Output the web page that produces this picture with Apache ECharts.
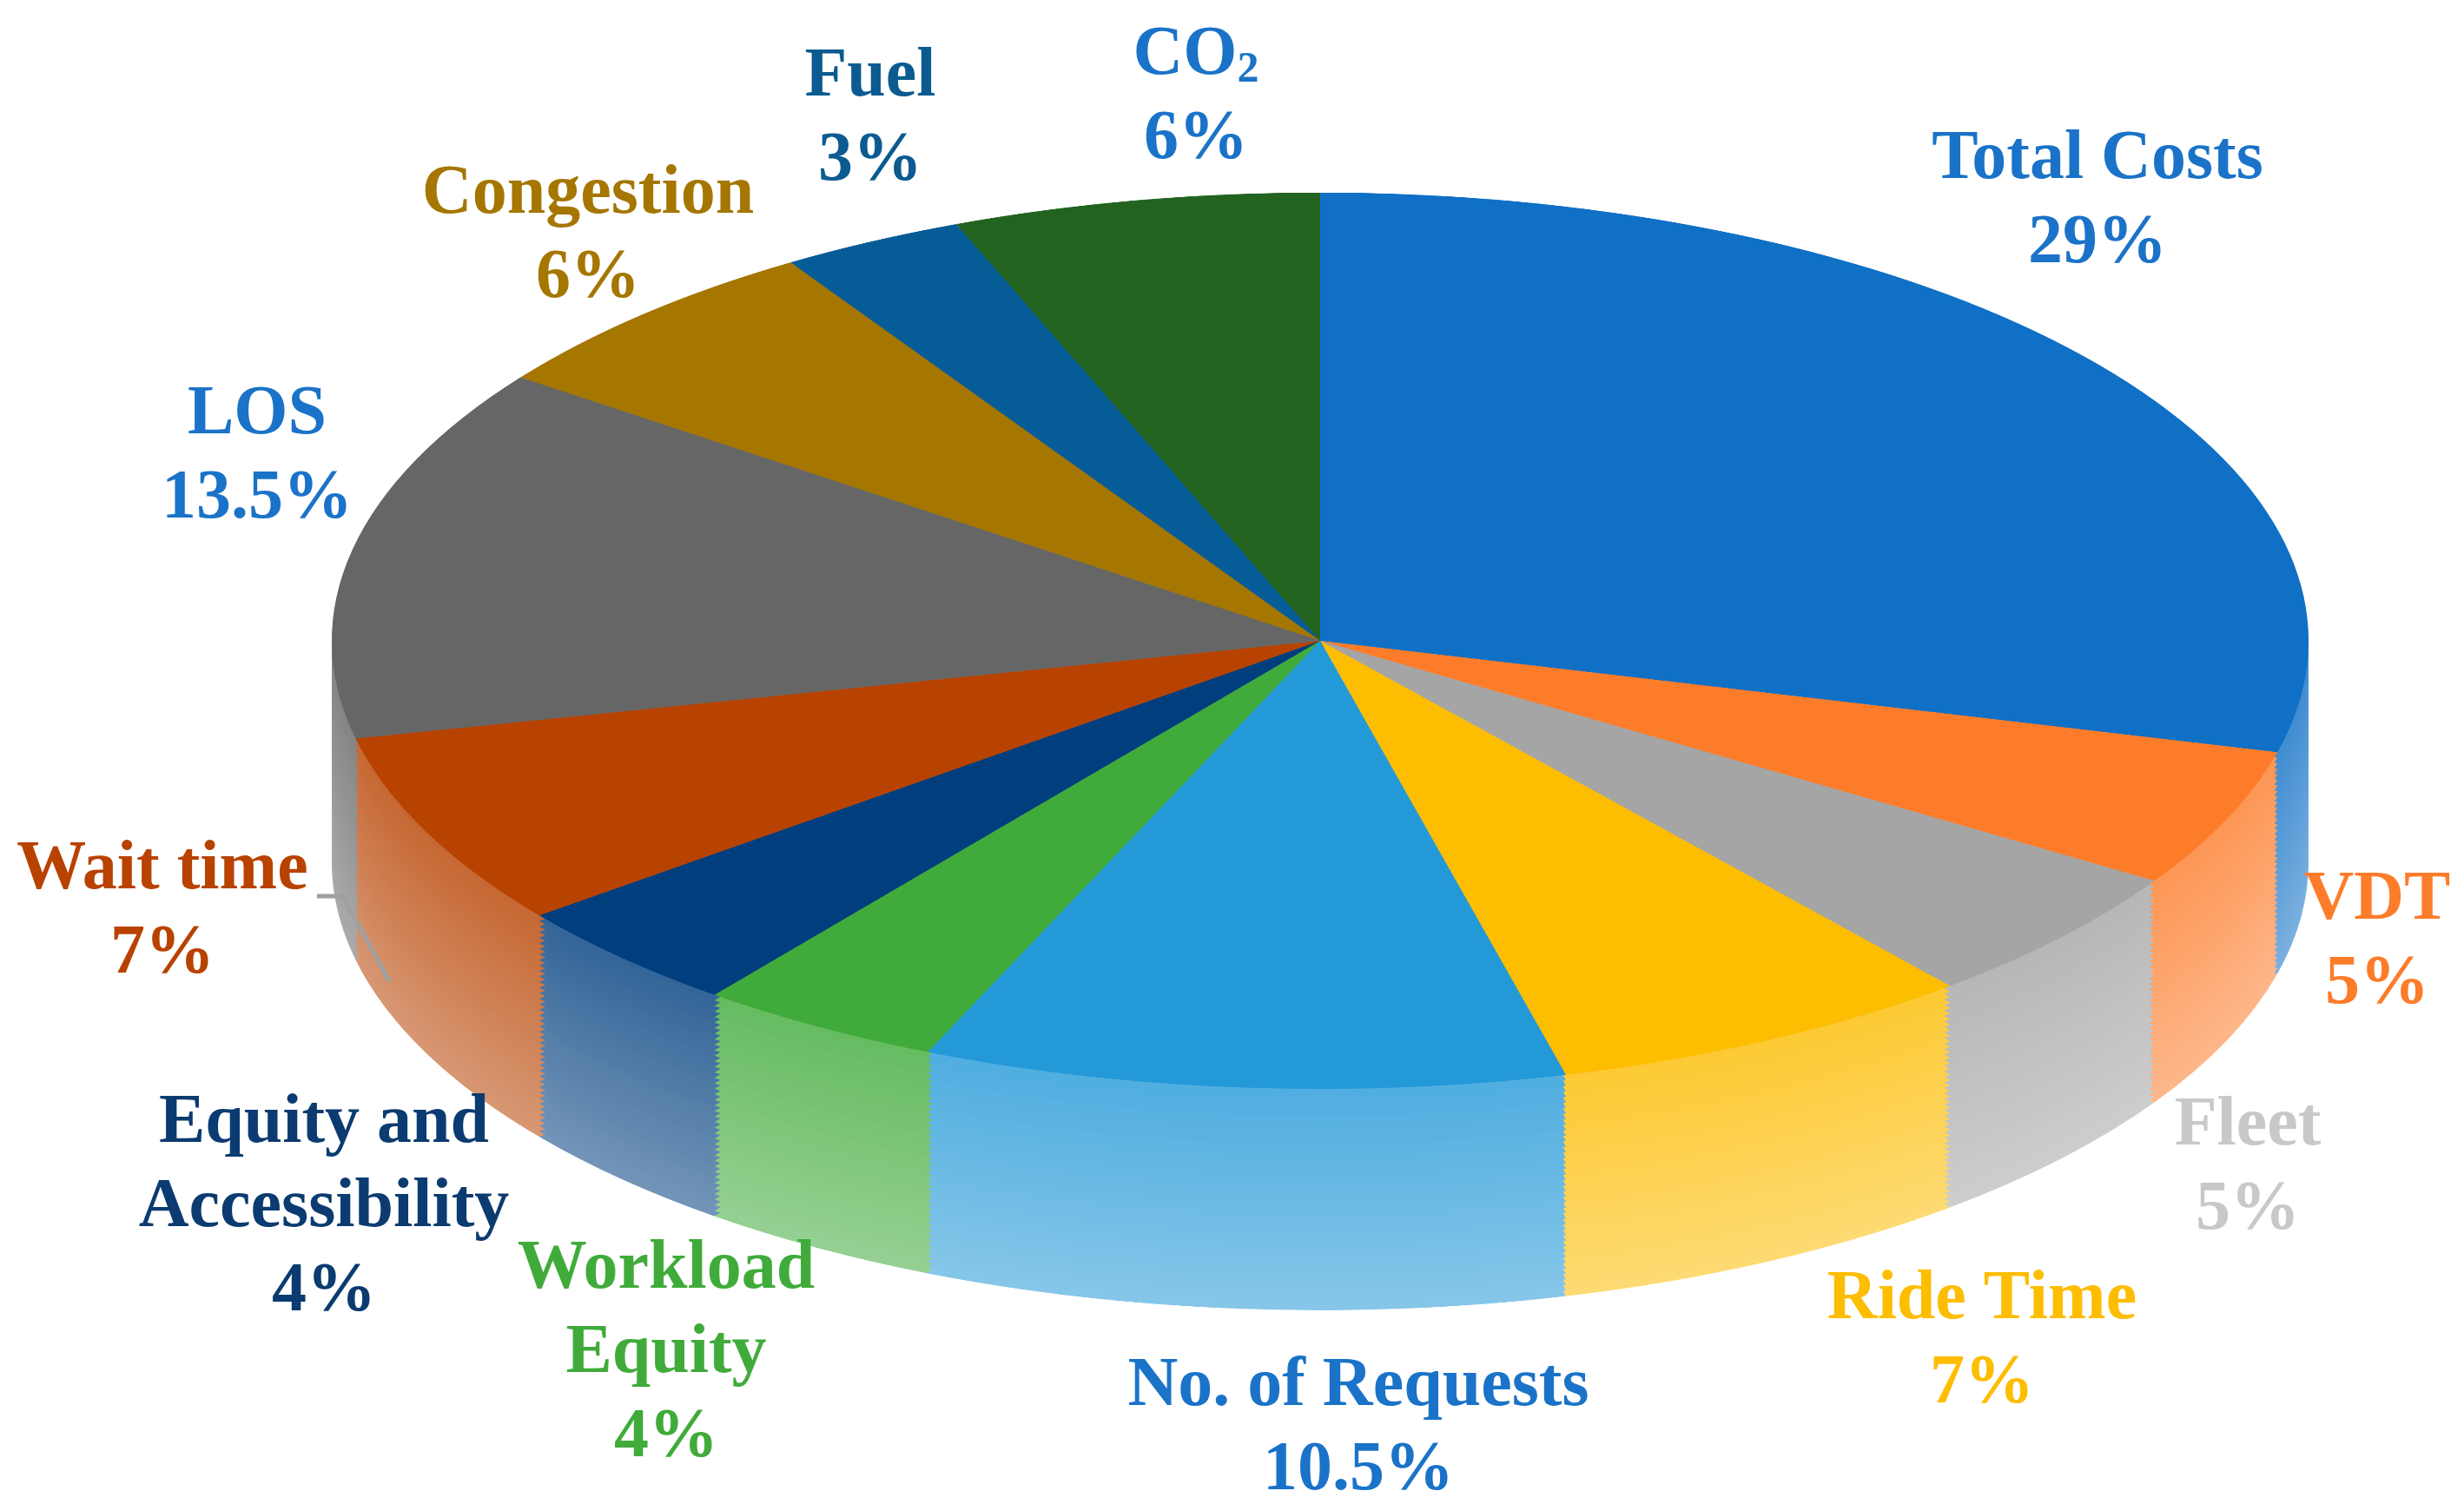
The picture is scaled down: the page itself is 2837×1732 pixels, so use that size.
<!DOCTYPE html>
<html><head><meta charset="utf-8">
<script src="https://cdn.jsdelivr.net/npm/echarts@6/dist/echarts.min.js"></script>
<style>
html,body{margin:0;padding:0;background:#fff;overflow:hidden}
#pie{position:absolute;left:0;top:0;width:2837px;height:3400px;transform:scaleY(0.4535);transform-origin:0 0}
#lab{position:absolute;left:0;top:0;width:2837px;height:1732px}
</style></head><body>
<div id="pie"></div><div id="lab"></div>
<script>
const categories = ['Total Costs','VDT','Fleet','Ride Time','No. of Requests','Workload Equity','Equity and Accessibility','Wait time','LOS','Congestion','Fuel','CO2'];
const values = [29,5,5,7,10.5,4,4,7,13.5,6,3,6];
const labelText = ['Total Costs\n29%','VDT\n5%','Fleet\n5%','Ride Time\n7%','No. of Requests\n10.5%','Workload\nEquity\n4%','Equity and\nAccessibility\n4%','Wait time\n7%','LOS\n13.5%','Congestion\n6%','Fuel\n3%','{a|CO}{s|2}\n{a|6%}'];
const colors = ['#0f70c6','#fd7c2a','#a5a5a5','#fdbd00','#2399d8','#40ab3a','#003e7e','#b84200','#666666','#a57600','#065c97','#236320'];
const labelColors = ['#1a73c8','#fd7c2a','#c8c8c8','#fdbd00','#1a73c8','#40ab3a','#0b3b70','#b84200','#1a73c8','#a57600','#0b5b90','#1a73c8'];
const labelPos = [[2415,233],[2737,1086],[2588,1346],[2282,1546],[1564,1646],[767,1559],[373,1391],[187,1051],[296,527],[677,273],[1002,138],[1377,113]];

const R = 1138, cx = 1520, cy = 1627, depth = 562, steps = 40;
const series = [];
for (let i = steps; i >= 1; i--) {
  const f = i / steps;
  series.push({
    type:'pie', radius:R, center:[cx, cy + depth*f], startAngle:90, clockwise:true,
    silent:true, label:{show:false}, labelLine:{show:false},
    data: categories.map((c,k)=>({name:c,value:values[k],itemStyle:{color:echarts.color.lift(colors[k], 0.45 - 0.25*(1-f))}}))
  });
}
series.push({
  type:'pie', radius:R, center:[cx, cy], startAngle:90, clockwise:true,
  silent:true, label:{show:false}, labelLine:{show:false},
  data: categories.map((c,k)=>({name:c,value:values[k],itemStyle:{color:colors[k]}}))
});
const pie = echarts.init(document.getElementById('pie'));
pie.setOption({animation:false, series});

const lab = echarts.init(document.getElementById('lab'));
const font = {fontFamily:'Liberation Serif', fontWeight:'bold', fontSize:80, lineHeight:97};
const elements = categories.map((c,k)=>({
  type:'text', x:labelPos[k][0], y:labelPos[k][1],
  style:Object.assign({text:labelText[k], fill:labelColors[k], align:'center', verticalAlign:'middle',
    rich:{a:Object.assign({fill:labelColors[k]},font), s:{fill:labelColors[k],fontFamily:'Liberation Serif',fontWeight:'bold',fontSize:50,padding:[34,0,0,0]}}}, font)
}));
elements.push({type:'polyline', shape:{points:[[365,1032],[395,1032],[448,1130]]}, style:{stroke:'#a0a0a0', lineWidth:5, fill:null}});
lab.setOption({animation:false, graphic:{elements}});
</script></body></html>
